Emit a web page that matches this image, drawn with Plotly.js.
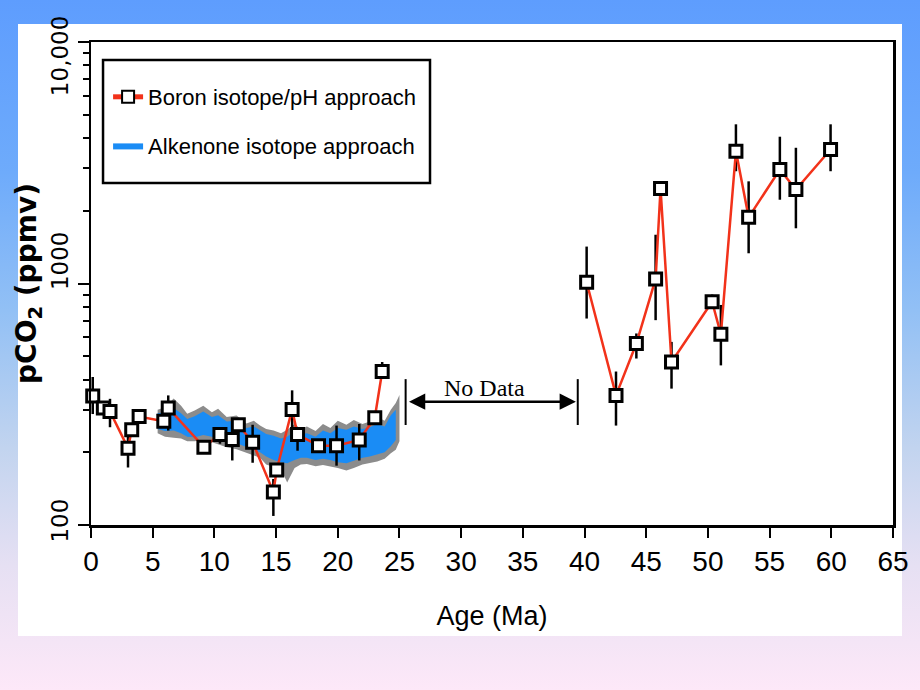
<!DOCTYPE html>
<html><head><meta charset="utf-8">
<script src="https://cdn.plot.ly/plotly-3.0.1.min.js"></script>
<style>
html,body{margin:0;padding:0;width:920px;height:690px;overflow:hidden;
background:linear-gradient(to bottom,#5e9dfe 0%,#6eabfb 25%,#92c0f5 45%,#c2d4ef 65%,#e6e0f3 82%,#fde8f8 100%);}
#panel{position:absolute;left:18px;top:24px;width:884px;height:612px;background:#fff;}
#chart{position:absolute;left:0;top:0;width:920px;height:690px;}
</style></head><body><div id="panel"></div><div id="chart"></div>
<script>
// Boron isotope / pH estimates (age Ma, pCO2 ppmv, error bar top, error bar bottom)
var ageB = [0.14, 1.0, 1.54, 3.0, 3.3, 3.9, 5.9, 6.26, 9.15, 10.45, 11.45, 11.94, 13.1, 14.78, 15.05, 16.3, 16.74, 18.44, 19.9, 21.74, 23.0, 23.6,
            40.17, 42.55, 44.2, 45.76, 46.16, 47.05, 50.34, 51.05, 52.27, 53.3, 55.83, 57.13, 59.94];
var pB   = [342, 305, 295, 208, 248, 281, 269, 305, 210, 237, 226, 260, 220, 137, 169, 301, 237, 213, 213, 225, 278, 432,
            1012, 344, 564, 1044, 2473, 473, 840, 616, 3532, 1879, 2965, 2449, 3589];
var hiB  = [410, 318, 333, 246, 262, 300, 280, 344, 220, 254, 266, 275, 260, 155, 180, 361, 254, 222, 258, 262, 290, 473,
            1422, 432, 621, 1592, 2650, 573, 900, 815, 4563, 2649, 4054, 3648, 4563];
var loB  = [288, 294, 254, 173, 236, 266, 258, 246, 200, 217, 185, 248, 181, 109, 158, 246, 203, 205, 176, 185, 268, 403,
            716, 258, 489, 705, 2300, 367, 790, 458, 2917, 1334, 2223, 1693, 2917];

// Alkenone isotope envelope (age Ma; outer grey range and inner blue range, ppmv)
var ageGrey = [5.4, 6.0, 6.7, 7.3, 7.8, 8.4, 9.1, 9.8, 10.3, 11.0, 11.8, 12.6, 13.2, 13.7, 14.2, 14.8, 15.4, 15.9, 16.5, 17.0,
               17.5, 18.2, 18.8, 19.4, 20.0, 20.7, 21.3, 22.0, 22.6, 23.2, 23.8, 24.3, 24.7, 25.0];
var greyTop = [300, 307, 334, 312, 289, 298, 312, 293, 303, 280, 284, 263, 270, 258, 250, 246, 240, 248, 262, 250,
               256, 245, 262, 252, 270, 260, 272, 262, 268, 280, 270, 300, 320, 345];
var greyBot = [240, 232, 230, 228, 222, 222, 225, 220, 216, 210, 206, 200, 194, 190, 178, 174, 170, 150, 172, 178,
               179, 175, 177, 174, 172, 168, 172, 178, 180, 183, 188, 198, 205, 222];
var ageBlue = [5.4, 6.0, 6.7, 7.3, 7.8, 8.4, 9.1, 9.8, 10.3, 11.0, 11.8, 12.6, 13.2, 13.7, 14.2, 14.8, 15.4, 15.9, 16.5, 17.0,
               17.5, 18.2, 18.8, 19.4, 20.0, 20.7, 21.3, 22.0, 22.6, 23.2, 23.8, 24.3, 24.7];
var blueTop = [290, 292, 305, 290, 275, 282, 295, 280, 285, 268, 270, 252, 256, 246, 238, 234, 228, 232, 245, 238,
               240, 232, 246, 240, 252, 248, 256, 250, 254, 262, 256, 285, 300];
var blueBot = [250, 245, 246, 240, 232, 231, 236, 232, 228, 222, 218, 210, 205, 200, 192, 186, 182, 180, 186, 190,
               190, 186, 188, 186, 182, 180, 184, 190, 192, 196, 200, 212, 225];

var NB = '\u00a0';
var yTickVals = [100, 1000, 10000];
var yTickText = [NB + NB + NB + '100', NB + NB + NB + NB + NB + NB + NB + NB + '1000', '10,000' + NB + NB];
var yMinorVals = [200, 300, 400, 500, 600, 700, 800, 900, 2000, 3000, 4000, 5000, 6000, 7000, 8000, 9000];

var SANS = "'Liberation Sans', Arial, sans-serif";
var WIDE = "'DejaVu Sans', 'Liberation Sans', Arial, sans-serif";

function rev(a){ return a.slice().reverse(); }

var gap = 30; // split of record around the no-data interval
var idxA = [], idxB = [];
ageB.forEach(function(a, i){ (a < gap ? idxA : idxB).push(i); });
function pick(arr, idx){ return idx.map(function(i){ return arr[i]; }); }

var traces = [];
traces.push({
  x: ageGrey.concat(rev(ageGrey)), y: greyTop.concat(rev(greyBot)),
  type: 'scatter', mode: 'lines', fill: 'toself', fillcolor: '#8c8c8c',
  line: {width: 0, color: '#8c8c8c'}, showlegend: false, hoverinfo: 'skip'
});
traces.push({
  x: ageBlue.concat(rev(ageBlue)), y: blueTop.concat(rev(blueBot)),
  type: 'scatter', mode: 'lines', fill: 'toself', fillcolor: '#1a8cf5',
  line: {width: 0, color: '#1a8cf5'}, name: 'Alkenone isotope approach',
  legendrank: 2, legendgroup: 'b'
});
traces.push({
  x: ageB, y: pB, type: 'scatter', mode: 'markers',
  marker: {size: 1, color: 'rgba(0,0,0,0)'},
  error_y: {type: 'data', symmetric: false,
    array: hiB.map(function(h, i){ return h - pB[i]; }),
    arrayminus: loB.map(function(l, i){ return pB[i] - l; }),
    color: '#000', thickness: 2.5, width: 0},
  showlegend: false, hoverinfo: 'skip', cliponaxis: false
});
[idxA, idxB].forEach(function(idx, k){
  traces.push({
    x: pick(ageB, idx), y: pick(pB, idx), type: 'scatter', mode: 'lines+markers',
    line: {color: '#f2321a', width: 2.5},
    marker: {symbol: 'square', size: 12, color: '#fff', line: {color: '#000', width: 3}},
    name: 'Boron isotope/pH approach', showlegend: k === 0,
    legendrank: 1, legendgroup: 'a', cliponaxis: false
  });
});

var layout = {
  width: 920, height: 690,
  margin: {l: 91, r: 27, t: 42, b: 165},
  paper_bgcolor: 'rgba(0,0,0,0)', plot_bgcolor: 'rgba(0,0,0,0)',
  showlegend: true,
  legend: {x: 0.0213, y: 0.9296, xanchor: 'left', yanchor: 'top',
    bgcolor: 'rgba(0,0,0,0)', borderwidth: 0, itemwidth: 30,
    font: {family: SANS, size: 22, color: '#000'},
    traceorder: 'grouped', tracegroupgap: 17, itemsizing: 'constant'},
  xaxis: {
    range: [0, 65], tickmode: 'linear', tick0: 0, dtick: 5,
    showline: true, linecolor: '#000', linewidth: 2.5, mirror: true,
    ticks: 'outside', ticklen: 10, tickwidth: 2, tickcolor: '#000',
    showgrid: false, zeroline: false,
    tickfont: {family: SANS, size: 28, color: '#000'},
    title: {text: 'Age (Ma)', font: {family: SANS, size: 27, color: '#000'}, standoff: 30}
  },
  yaxis: {
    type: 'log', range: [1.9999, 4.0001],
    tickmode: 'array', tickvals: yTickVals, ticktext: yTickText, tickangle: -90,
    ticklabeloverflow: 'allow', ticklabelshift: 10,
    showline: true, linecolor: '#000', linewidth: 2.5, mirror: true,
    ticks: 'outside', ticklen: 11, tickwidth: 2, tickcolor: '#000',
    minor: {tickmode: 'array', tickvals: yMinorVals, ticks: 'outside', ticklen: 6, tickwidth: 2, tickcolor: '#000', showgrid: false},
    showgrid: false, zeroline: false,
    tickfont: {family: WIDE, size: 23, color: '#000'},
    title: {text: 'pCO<sub>2</sub> (ppmv)', font: {family: WIDE, size: 28, color: '#000', weight: 'bold'}, standoff: 3}
  },
  shapes: [
    {type: 'rect', xref: 'paper', yref: 'paper', x0: 0.015, x1: 0.4227, y0: 0.708, y1: 0.9627,
     line: {color: '#000', width: 2.5}, fillcolor: 'rgba(0,0,0,0)', layer: 'above'},
    {type: 'line', xref: 'x', yref: 'paper', x0: 25.5, x1: 25.5, y0: 0.207, y1: 0.302, line: {color: '#000', width: 2}},
    {type: 'line', xref: 'x', yref: 'paper', x0: 39.45, x1: 39.45, y0: 0.207, y1: 0.302, line: {color: '#000', width: 2}}
  ],
  annotations: [
    {xref: 'x', yref: 'paper', x: 39.3, y: 0.2553, axref: 'x', ayref: 'pixel', ax: 25.65, ay: 0,
     text: '', showarrow: true, arrowside: 'end+start', arrowhead: 2, arrowsize: 1.3, arrowwidth: 2.5, arrowcolor: '#000'},
    {xref: 'x', yref: 'paper', x: 31.9, y: 0.2526, text: 'No Data', showarrow: false,
     font: {family: "'Liberation Serif', 'Times New Roman', serif", size: 24, color: '#000'}}
  ]
};

Plotly.newPlot('chart', traces, layout, {displayModeBar: false, staticPlot: true});
</script></body></html>
